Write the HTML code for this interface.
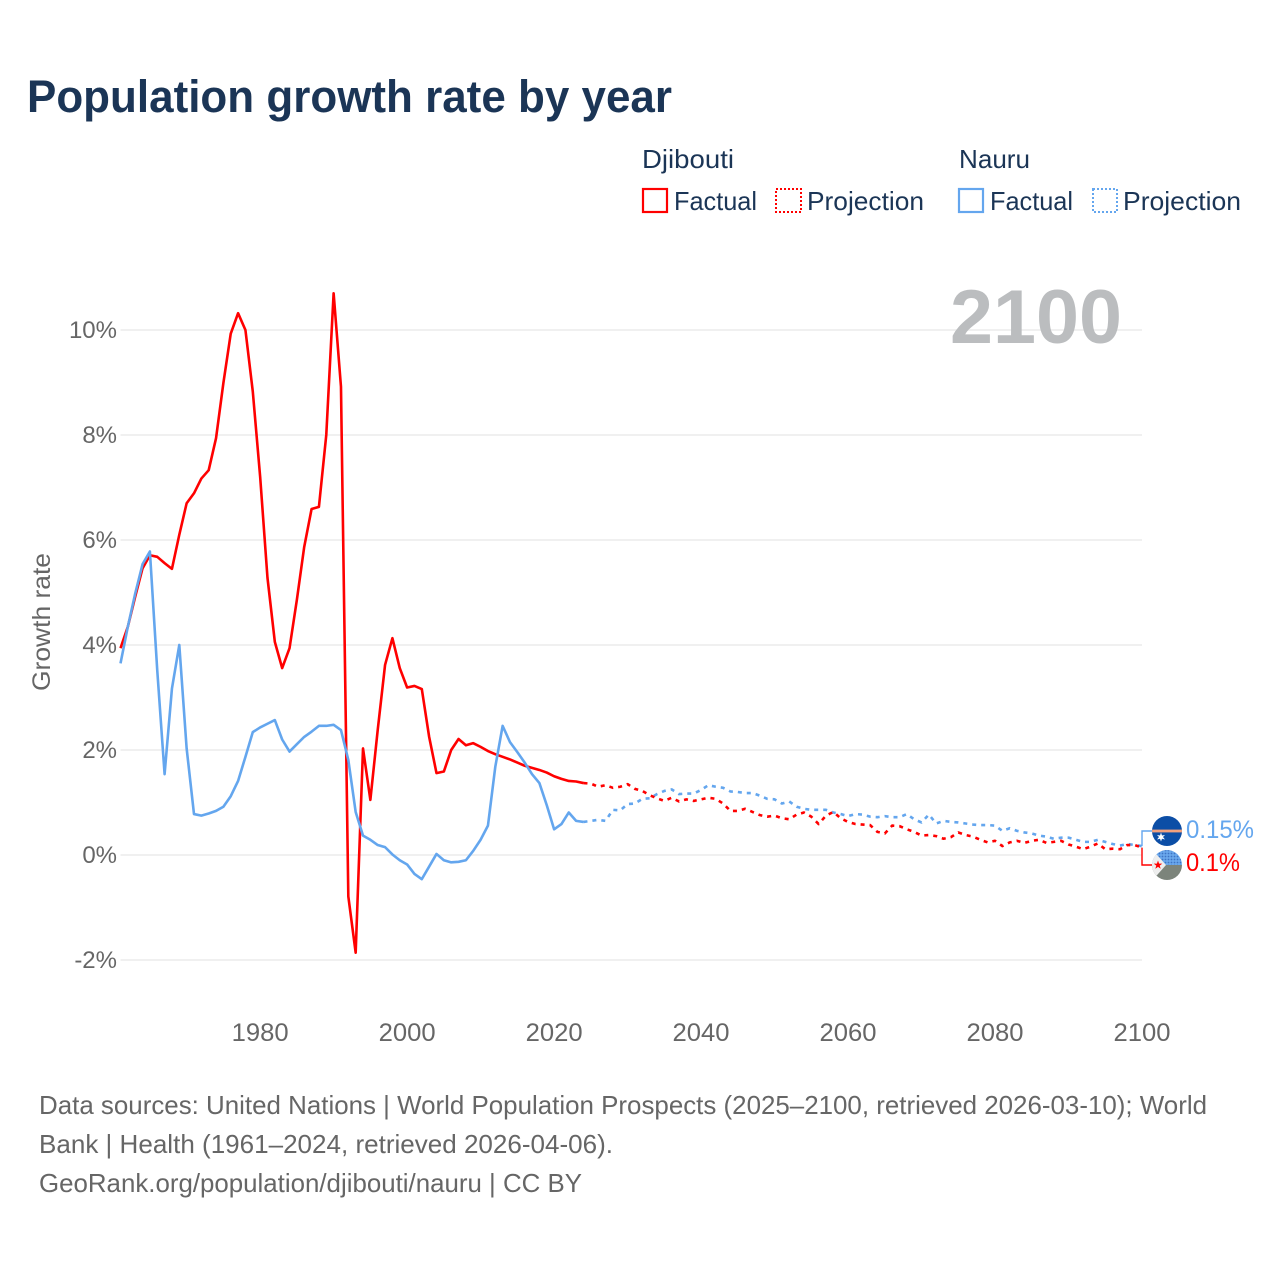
<!DOCTYPE html>
<html lang="en">
<head>
<meta charset="utf-8">
<title>Population growth rate by year</title>
<style>
  html, body { margin: 0; padding: 0; background: #fff; }
  svg { display: block; font-family: "Liberation Sans", sans-serif; }
</style>
</head>
<body>
<svg id="chart" xmlns="http://www.w3.org/2000/svg" width="1280" height="1280" viewBox="0 0 1280 1280">
  <defs>
    <clipPath id="flag-clip-nauru"><circle cx="1167" cy="831" r="15"/></clipPath>
    <clipPath id="flag-clip-djibouti"><circle cx="1167" cy="865" r="15"/></clipPath>
    <pattern id="flag-dots" width="3" height="3" patternUnits="userSpaceOnUse">
      <rect width="3" height="3" fill="#6aa8ec"/>
      <circle cx="1.5" cy="1.5" r="0.9" fill="#3f74c4"/>
    </pattern>
  </defs>

  <text x="27" y="112" font-size="45" font-weight="700" fill="#1b3556" textLength="645" lengthAdjust="spacingAndGlyphs">Population growth rate by year</text>

  <g font-size="26" fill="#1b3556">
    <text x="642" y="168" textLength="92" lengthAdjust="spacingAndGlyphs">Djibouti</text>
    <text x="959" y="168" textLength="71" lengthAdjust="spacingAndGlyphs">Nauru</text>
    <rect x="643" y="189" width="24" height="23" fill="none" stroke="#ff0000" stroke-width="2.2"/>
    <text x="674" y="210" textLength="83" lengthAdjust="spacingAndGlyphs">Factual</text>
    <rect x="776" y="189" width="25" height="23" fill="none" stroke="#ff0000" stroke-width="2" stroke-dasharray="2 2"/>
    <text x="807" y="210" textLength="117" lengthAdjust="spacingAndGlyphs">Projection</text>
    <rect x="959" y="189" width="24" height="23" fill="none" stroke="#64a6ee" stroke-width="2.2"/>
    <text x="990" y="210" textLength="83" lengthAdjust="spacingAndGlyphs">Factual</text>
    <rect x="1093" y="189" width="24" height="23" fill="none" stroke="#64a6ee" stroke-width="2" stroke-dasharray="2 2"/>
    <text x="1123" y="210" textLength="118" lengthAdjust="spacingAndGlyphs">Projection</text>
  </g>

  <g id="grid-layer"></g>

  <text x="1122" y="343" text-anchor="end" font-size="76" font-weight="700" fill="#bbbdbf" textLength="172" lengthAdjust="spacingAndGlyphs">2100</text>

  <g id="y-tick-layer" font-size="24" fill="#666666" text-anchor="end"></g>
  <g id="x-tick-layer" font-size="25" fill="#666666" text-anchor="middle"></g>

  <text transform="translate(50 622) rotate(-90)" text-anchor="middle" font-size="25" fill="#666666" textLength="138" lengthAdjust="spacingAndGlyphs">Growth rate</text>

  <g id="series-layer" fill="none" stroke-width="2.6" stroke-linejoin="round"></g>

  <g fill="none" stroke-width="1.4">
    <path id="connector-nauru" stroke="#64a6ee"/>
    <path id="connector-djibouti" stroke="#ff0000"/>
  </g>

  <g clip-path="url(#flag-clip-nauru)">
    <rect x="1150" y="814" width="34" height="34" fill="#0c4ea6"/>
    <rect x="1150" y="829.6" width="34" height="2.8" fill="#f2a17e"/>
    <polygon points="1161,832.5 1162,835.5 1165,835 1163,837 1165,839.5 1162,838.8 1161,841.5 1160,838.8 1157,839.5 1159,837 1157,835 1160,835.5" fill="#ffffff"/>
  </g>
  <g clip-path="url(#flag-clip-djibouti)">
    <rect x="1150" y="848" width="34" height="17" fill="url(#flag-dots)"/>
    <rect x="1150" y="865" width="34" height="17" fill="#7c847b"/>
    <polygon points="1150,847 1166,865 1150,883" fill="#eeeeee"/>
    <polygon points="1158,860.5 1159.1,863.6 1162.3,863.6 1159.7,865.6 1160.7,868.8 1158,866.9 1155.3,868.8 1156.3,865.6 1153.7,863.6 1156.9,863.6" fill="#ff0000"/>
  </g>

  <text x="1186" y="838" font-size="25" fill="#64a6ee" textLength="68" lengthAdjust="spacingAndGlyphs">0.15%</text>
  <text x="1186" y="871" font-size="25" fill="#ff0000" textLength="54" lengthAdjust="spacingAndGlyphs">0.1%</text>

  <g font-size="26" fill="#666666">
    <text x="39" y="1114" textLength="1168" lengthAdjust="spacingAndGlyphs">Data sources: United Nations | World Population Prospects (2025–2100, retrieved 2026-03-10); World</text>
    <text x="39" y="1153" textLength="574" lengthAdjust="spacingAndGlyphs">Bank | Health (1961–2024, retrieved 2026-04-06).</text>
    <text x="39" y="1192" textLength="543" lengthAdjust="spacingAndGlyphs">GeoRank.org/population/djibouti/nauru | CC BY</text>
  </g>
</svg>

<script>
const factualStartYear = 1961;
const projectionStartYear = 2024;
const yTicks = [10, 8, 6, 4, 2, 0, -2];
const xTicks = [1980, 2000, 2020, 2040, 2060, 2080, 2100];

const djiboutiFactual = [
  3.94, 4.35, 4.92, 5.46, 5.71, 5.68, 5.56, 5.45, 6.10, 6.70,
  6.89, 7.17, 7.33, 7.94, 8.99, 9.93, 10.32, 10.00, 8.83, 7.21,
  5.28, 4.06, 3.56, 3.94, 4.86, 5.87, 6.59, 6.63, 8.00, 10.70,
  8.92, -0.79, -1.86, 2.03, 1.05, 2.38, 3.62, 4.13, 3.56, 3.19,
  3.22, 3.16, 2.25, 1.56, 1.59, 2.00, 2.21, 2.09, 2.13, 2.06,
  1.98, 1.92, 1.87, 1.82, 1.76, 1.70, 1.66, 1.62, 1.57, 1.50,
  1.45, 1.41, 1.40, 1.37
];

const djiboutiProjection = [
  1.37, 1.36, 1.30, 1.33, 1.28, 1.30, 1.35, 1.26, 1.22, 1.14,
  1.08, 1.03, 1.09, 1.02, 1.06, 1.03, 1.06, 1.09, 1.07, 0.98,
  0.84, 0.84, 0.88, 0.82, 0.76, 0.73, 0.75, 0.70, 0.68, 0.77,
  0.81, 0.73, 0.59, 0.75, 0.82, 0.70, 0.63, 0.59, 0.58, 0.57,
  0.44, 0.41, 0.56, 0.55, 0.49, 0.44, 0.37, 0.38, 0.36, 0.31,
  0.34, 0.43, 0.38, 0.35, 0.29, 0.24, 0.27, 0.17, 0.24, 0.27,
  0.23, 0.27, 0.29, 0.23, 0.25, 0.27, 0.20, 0.16, 0.11, 0.16,
  0.22, 0.11, 0.12, 0.11, 0.19, 0.19, 0.14
];

const nauruFactual = [
  3.65, 4.35, 4.98, 5.54, 5.78, 3.52, 1.54, 3.17, 4.00, 2.03,
  0.78, 0.75, 0.79, 0.84, 0.92, 1.12, 1.41, 1.87, 2.34, 2.43,
  2.50, 2.57, 2.20, 1.97, 2.11, 2.25, 2.35, 2.46, 2.46, 2.48,
  2.38, 1.81, 0.82, 0.37, 0.29, 0.19, 0.15, 0.01, -0.10, -0.18,
  -0.36, -0.46, -0.22, 0.02, -0.10, -0.14, -0.13, -0.10, 0.08, 0.29,
  0.56, 1.68, 2.46, 2.15, 1.96, 1.76, 1.54, 1.37, 0.95, 0.49,
  0.59, 0.81, 0.65, 0.63
];

const nauruProjection = [
  0.63, 0.65, 0.67, 0.65, 0.86, 0.85, 0.97, 0.98, 1.07, 1.08,
  1.16, 1.22, 1.25, 1.16, 1.17, 1.17, 1.24, 1.33, 1.30, 1.28,
  1.21, 1.20, 1.18, 1.18, 1.13, 1.07, 1.06, 0.98, 1.02, 0.92,
  0.88, 0.86, 0.86, 0.86, 0.81, 0.78, 0.74, 0.78, 0.77, 0.73,
  0.72, 0.74, 0.72, 0.72, 0.78, 0.68, 0.62, 0.77, 0.60, 0.65,
  0.63, 0.62, 0.60, 0.58, 0.57, 0.57, 0.56, 0.46, 0.51, 0.46,
  0.43, 0.41, 0.37, 0.35, 0.31, 0.33, 0.33, 0.29, 0.25, 0.25,
  0.29, 0.25, 0.21, 0.18, 0.21, 0.19, 0.17
];

const SVG_NS = 'http://www.w3.org/2000/svg';
const RED = '#ff0000';
const BLUE = '#64a6ee';

function xScale(year) {
  return 120.5 + (year - 1961) * (1142 - 120.5) / (2100 - 1961);
}
function yScale(value) {
  return 855 - value * 52.5;
}
function linePath(values, startYear) {
  return values.map(function (v, i) {
    return (i ? 'L' : 'M') + xScale(startYear + i).toFixed(2) + ' ' + yScale(v).toFixed(2);
  }).join(' ');
}

const gridLayer = document.getElementById('grid-layer');
const yTickLayer = document.getElementById('y-tick-layer');
const xTickLayer = document.getElementById('x-tick-layer');
const seriesLayer = document.getElementById('series-layer');

yTicks.forEach(function (t) {
  const line = document.createElementNS(SVG_NS, 'line');
  
  
  line.setAttribute('x1', xScale(1961));
  line.setAttribute('x2', xScale(2100));
  line.setAttribute('y1', yScale(t));
  line.setAttribute('y2', yScale(t));
  line.setAttribute('stroke', '#f0f0f0');
  line.setAttribute('stroke-width', '2');
  gridLayer.appendChild(line);

  const label = document.createElementNS(SVG_NS, 'text');
  
  
  label.setAttribute('x', '117');
  label.setAttribute('y', yScale(t) + 8);
  label.textContent = t + '%';
  yTickLayer.appendChild(label);
});

xTicks.forEach(function (t) {
  const label = document.createElementNS(SVG_NS, 'text');
  
  
  label.setAttribute('x', xScale(t));
  label.setAttribute('y', '1041');
  label.setAttribute('textLength', '57');
  label.setAttribute('lengthAdjust', 'spacingAndGlyphs');
  label.textContent = String(t);
  xTickLayer.appendChild(label);
});

function drawSeries(name, values, startYear, color, dashed) {
  const path = document.createElementNS(SVG_NS, 'path');
  
  
  path.setAttribute('d', linePath(values, startYear));
  path.setAttribute('stroke', color);
  if (dashed) {
    path.setAttribute('stroke-dasharray', '4 5');
  }
  seriesLayer.appendChild(path);
}

drawSeries('line-nauru-projection', nauruProjection, projectionStartYear, BLUE, true);
drawSeries('line-djibouti-projection', djiboutiProjection, projectionStartYear, RED, true);
drawSeries('line-djibouti-factual', djiboutiFactual, factualStartYear, RED, false);
drawSeries('line-nauru-factual', nauruFactual, factualStartYear, BLUE, false);

const endX = xScale(2100);
const nauruEnd = yScale(nauruProjection[nauruProjection.length - 1]);
const djiboutiEnd = yScale(djiboutiProjection[djiboutiProjection.length - 1]);
document.getElementById('connector-nauru').setAttribute('d', 'M' + endX + ' ' + nauruEnd + ' V831 H1152');
document.getElementById('connector-djibouti').setAttribute('d', 'M' + endX + ' ' + djiboutiEnd + ' V865 H1152');
</script>
</body>
</html>
